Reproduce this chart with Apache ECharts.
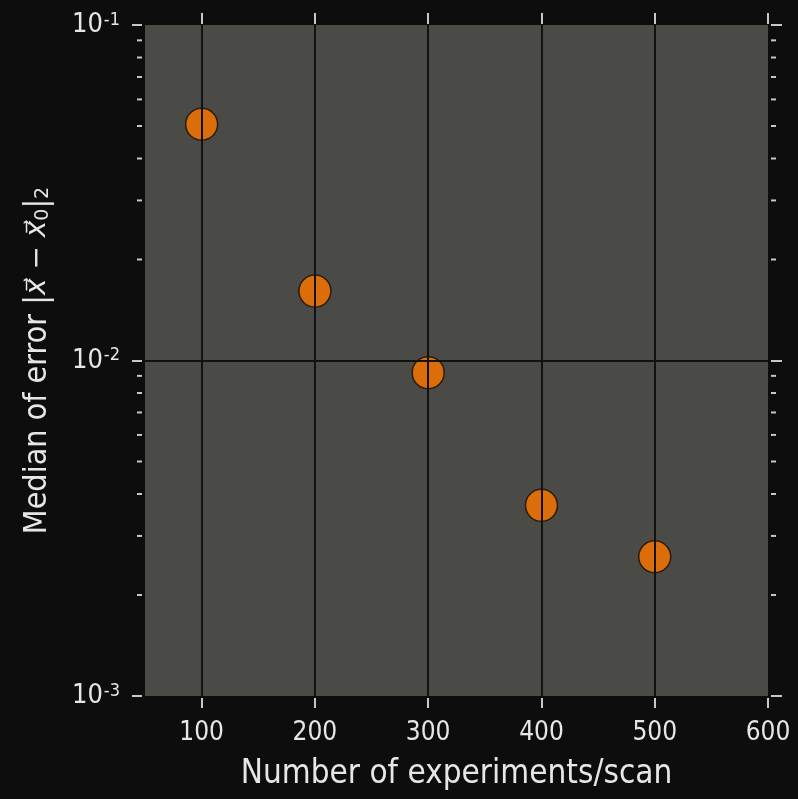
<!DOCTYPE html>
<html>
<head>
<meta charset="utf-8">
<script src="https://cdn.jsdelivr.net/npm/echarts@6/dist/echarts.min.js"></script>
<style>
  html, body { margin: 0; padding: 0; background: #0d0d0d; }
  #chart { width: 798px; height: 799px; }
</style>
</head>
<body>
<div id="chart"></div>
<script>
// experiments per scan and median error
const experiments = [100, 200, 300, 400, 500];
const medianError = [0.0506, 0.0161, 0.0092, 0.0037, 0.0026];

const xMin = 50, xMax = 600;
const xTicks = [100, 200, 300, 400, 500, 600];
const xGridLines = [100, 200, 300, 400, 500];
const yMin = 0.001, yMax = 0.1;
const yGridLines = [0.01];
const yMinorTicks = [0.002, 0.003, 0.004, 0.005, 0.006, 0.007, 0.008, 0.009,
  0.02, 0.03, 0.04, 0.05, 0.06, 0.07, 0.08, 0.09];

const font = "'DejaVu Sans Condensed', 'DejaVu Sans', sans-serif";
const tickColor = '#c8c8c8';
const textColor = '#e6e6e6';

const myChart = echarts.init(document.getElementById('chart'));

const option = {
  backgroundColor: '#0d0d0d',
  animation: false,
  grid: {
    left: 145, right: 30, top: 25, bottom: 103,
    show: true, backgroundColor: '#4a4a47', borderWidth: 0
  },
  xAxis: [
    {
      type: 'value', position: 'bottom', min: xMin, max: xMax, offset: 2,
      axisLine: { show: false },
      axisTick: { show: true, length: 10, customValues: xTicks, lineStyle: { color: tickColor, width: 2 } },
      axisLabel: { customValues: xTicks, color: textColor, fontSize: 26, fontFamily: font, margin: 22 },
      splitLine: { show: false },
      name: 'Number of experiments/scan',
      nameLocation: 'middle', nameGap: 60,
      nameTextStyle: { color: textColor, fontSize: 33, fontFamily: font }
    },
    {
      type: 'value', position: 'top', min: xMin, max: xMax, offset: 1,
      axisLine: { show: false },
      axisTick: { show: true, length: 11, customValues: xTicks, lineStyle: { color: tickColor, width: 2 } },
      axisLabel: { show: false },
      splitLine: { show: false }
    }
  ],
  yAxis: [
    {
      type: 'log', logBase: 10, min: yMin, max: yMax, position: 'left', offset: 3,
      axisLine: { show: false },
      axisTick: { show: true, length: 10, lineStyle: { color: tickColor, width: 2 } },
      axisLabel: {
        margin: 22,
        formatter: function (v) {
          return '{b|10}{s|' + Math.round(Math.log10(v)) + '}';
        },
        rich: {
          b: { color: textColor, fontSize: 27, fontFamily: font, lineHeight: 28 },
          s: { color: textColor, fontSize: 18, fontFamily: font, verticalAlign: 'top', lineHeight: 28, padding: [0, 0, 8, 1] }
        }
      },
      splitLine: { show: false },
      name: '{t|Median of error |}{m|x\u20D7 \u2212 x\u20D7}{s|0}{t||}{s|2}',
      nameLocation: 'middle', nameGap: 88, nameRotate: 90,
      nameTextStyle: {
        rich: {
          t: { color: textColor, fontSize: 32, fontFamily: font },
          m: { color: textColor, fontSize: 28, fontFamily: "'DejaVu Sans'", fontStyle: 'italic' },
          s: { color: textColor, fontSize: 19, fontFamily: "'DejaVu Sans'", padding: [10, 0, 0, 0] }
        }
      }
    },
    {
      type: 'log', logBase: 10, min: yMin, max: yMax, position: 'right', offset: 3,
      axisLine: { show: false },
      axisTick: { show: true, length: 11, lineStyle: { color: tickColor, width: 2 } },
      axisLabel: { show: false },
      splitLine: { show: false }
    }
  ],
  series: [
    {
      // minor ticks at 2..9 of each decade, plus grid lines
      type: 'custom',
      z: 1,
      silent: true,
      data: yMinorTicks.map(v => [xMin, v]),
      encode: { x: 0, y: 1 },
      renderItem: function (params, api) {
        const v = api.value(1);
        const l = api.coord([xMin, v]);
        const r = api.coord([xMax, v]);
        const st = { stroke: tickColor, lineWidth: 2 };
        return {
          type: 'group',
          children: [
            { type: 'line', shape: { x1: l[0] - 8, y1: l[1], x2: l[0] - 3, y2: l[1] }, style: st },
            { type: 'line', shape: { x1: r[0] + 3, y1: r[1], x2: r[0] + 8, y2: r[1] }, style: st }
          ]
        };
      },
      markLine: {
        silent: true,
        symbol: 'none',
        label: { show: false },
        lineStyle: { color: '#121212', width: 2, type: 'solid' },
        data: xGridLines.map(v => ({ xAxis: v })).concat(yGridLines.map(v => ({ yAxis: v })))
      }
    },
    {
      type: 'scatter',
      z: 3,
      data: experiments.map((x, i) => [x, medianError[i]]),
      symbolSize: 32,
      itemStyle: { color: '#db6e0b', borderColor: '#2a1c0a', borderWidth: 1.5, opacity: 1 }
    }
  ]
};

option && myChart.setOption(option);

window.addEventListener('resize', () => {
  myChart.resize();
});
</script>
</body>
</html>
